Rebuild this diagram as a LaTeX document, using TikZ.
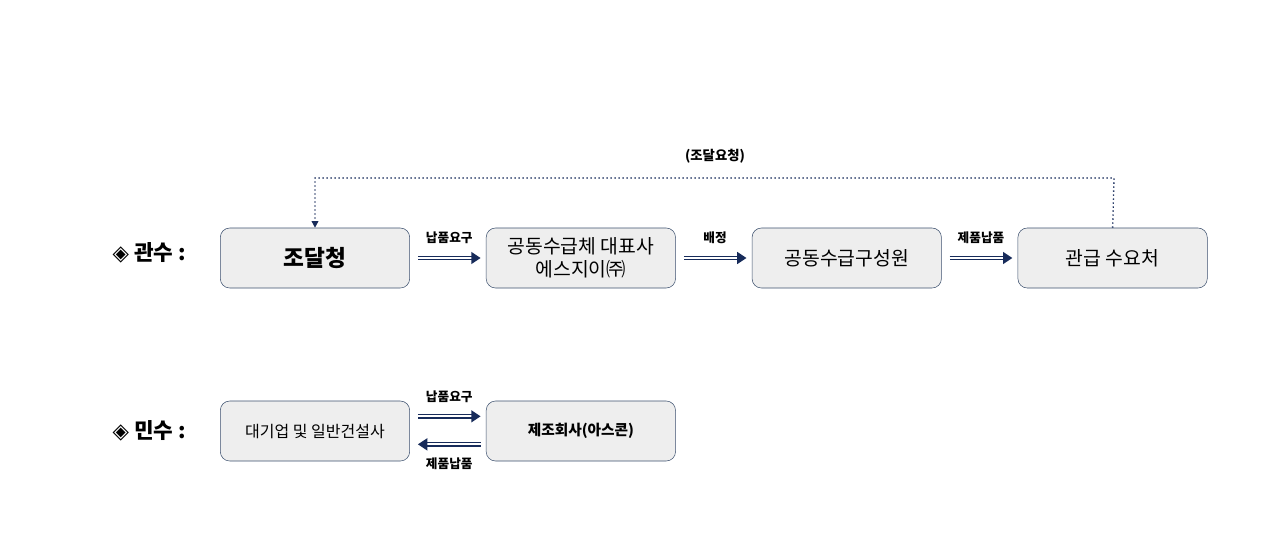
\documentclass[tikz,border=0pt]{standalone}
\usepackage{fontspec}
\setmainfont{Noto Sans CJK KR}
\newfontfamily\symfont{DejaVu Sans}
\usetikzlibrary{arrows.meta, positioning}
\definecolor{navy}{RGB}{23,43,90}
\definecolor{boxfill}{RGB}{238,238,238}
\definecolor{boxline}{RGB}{60,80,110}

\begin{document}
\begin{tikzpicture}[x=0.75pt, y=-0.75pt,
	flowbox/.style={draw=boxline, fill=boxfill, rounded corners=7pt, minimum width=142pt, minimum height=45pt, align=center, font=\fontsize{14.5}{17}\selectfont, inner sep=2pt},
	flowarrow/.style={draw=navy, double=white, double distance=1.3pt, line width=1.1pt, -{Triangle[length=7pt, width=9pt]}},
	arrowlabel/.style={font=\fontsize{9.5}{10}\selectfont\bfseries, text=black},
	rowlabel/.style={font=\fontsize{16}{18}\selectfont\bfseries, anchor=west}]

	\useasboundingbox (0,0) rectangle (1273,547);

	% Public procurement
	\node[rowlabel] (gwan) at (108,253) {{\symfont ◈} 관수 :};
	\node[flowbox, font=\fontsize{17}{19}\selectfont\bfseries] (pps) at (315,258) {조달청};
	\node[flowbox, right=57pt of pps] (rep) {공동수급체 대표사\\에스지이㈜};
	\node[flowbox, right=57pt of rep] (member) {공동수급구성원};
	\node[flowbox, right=57pt of member] (buyer) {관급 수요처};

	\draw[flowarrow] ([xshift=6pt]pps.east) -- ([xshift=-4pt]rep.west) node[midway, above=7pt, arrowlabel] {납품요구};
	\draw[flowarrow] ([xshift=6pt]rep.east) -- ([xshift=-4pt]member.west) node[midway, above=7pt, arrowlabel] {배정};
	\draw[flowarrow] ([xshift=6pt]member.east) -- ([xshift=-4pt]buyer.west) node[midway, above=7pt, arrowlabel] {제품납품};

	% Request loop
	\coordinate (loopr) at (1114,178);
	\coordinate (loopl) at (315,178);
	\draw[navy, dotted, line width=1pt, -{Triangle[length=5pt, width=5pt]}] (buyer.north) -- (loopr) -- (loopl) -- (pps.north);
	\node[arrowlabel, font=\fontsize{10}{11}\selectfont\bfseries] (reqlabel) at (715,156) {(조달요청)};

	% Private procurement
	\node[rowlabel] (min) at (108,431) {{\symfont ◈} 민수 :};
	\node[flowbox, font=\fontsize{12}{14}\selectfont] (builder) at (315,431) {대기업 및 일반건설사};
	\node[flowbox, right=57pt of builder, font=\fontsize{11}{14}\selectfont\bfseries] (maker) {제조회사(아스콘)};

	\draw[flowarrow] ([xshift=6pt, yshift=11pt]builder.east) -- ([xshift=-4pt, yshift=11pt]maker.west) node[midway, above=6pt, arrowlabel] {납품요구};
	\draw[flowarrow] ([xshift=-4pt, yshift=-10pt]maker.west) -- ([xshift=6pt, yshift=-10pt]builder.east) node[midway, below=6pt, arrowlabel] {제품납품};

\end{tikzpicture}
\end{document}
